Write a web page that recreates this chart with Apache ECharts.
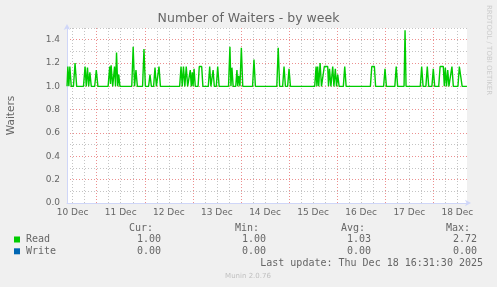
<!DOCTYPE html>
<html><head><meta charset="utf-8">
<script src="https://cdn.jsdelivr.net/npm/echarts@6/dist/echarts.min.js"></script>
<style>html,body{margin:0;padding:0;background:#f0f0f0}#c{width:497px;height:287px}</style>
</head><body><div id="c"></div><script>
// ---- data ----
const chartTitle = 'Number of Waiters - by week';
const yAxisName = 'Waiters';
// x values are hours counted from 10 Dec 00:00
const startHour = 9.18;
const endHour = 208.82;
const dayLabels = ['10 Dec', '11 Dec', '12 Dec', '13 Dec', '14 Dec', '15 Dec', '16 Dec', '17 Dec', '18 Dec'];
const dayLabelHours = [12, 36, 60, 84, 108, 132, 156, 180, 204];
const gridHours = [12, 18, 24, 30, 36, 42, 48, 54, 60, 66, 72, 78, 84, 90, 96, 102, 108, 114, 120, 126, 132, 138, 144, 150, 156, 162, 168, 174, 180, 186, 192, 198, 204];
const yLabels = ['0.0', '0.2', '0.4', '0.6', '0.8', '1.0', '1.2', '1.4'];
const readPoints = [
  [9.2, 1.0], [9.6, 1.17], [10.1, 1.0], [10.6, 1.17], [11.3, 1.0], [12.4, 1.0], [13.2, 1.2], [14.0, 1.0],
  [17.4, 1.0], [18.2, 1.17], [18.8, 1.0], [19.4, 1.16], [20.0, 1.0], [20.6, 1.12], [21.3, 1.0],
  [23.0, 1.0], [23.8, 1.14], [24.6, 1.0],
  [29.7, 1.0], [30.5, 1.17], [30.9, 1.02], [31.2, 1.18], [32.0, 1.0], [32.3, 1.0], [32.9, 1.17], [33.4, 1.0],
  [33.9, 1.29], [34.5, 1.0], [35.0, 1.1], [35.6, 1.0],
  [41.5, 1.0], [42.2, 1.34], [42.9, 1.0], [43.6, 1.14], [44.3, 1.0], [46.9, 1.0], [47.6, 1.32], [48.3, 1.0],
  [49.9, 1.0], [50.6, 1.1], [51.3, 1.0], [52.4, 1.0], [53.1, 1.16], [53.8, 1.0], [54.4, 1.0], [55.1, 1.17], [55.8, 1.0],
  [65.4, 1.0], [66.1, 1.17], [66.7, 1.0], [67.3, 1.17], [68.0, 1.0], [68.7, 1.17], [69.4, 1.0],
  [70.1, 1.0], [70.7, 1.14], [71.2, 1.0], [71.7, 1.12], [72.1, 1.0], [72.6, 1.15], [73.2, 1.0],
  [74.6, 1.0], [75.2, 1.17], [76.4, 1.17], [77.0, 1.0],
  [79.7, 1.0], [80.4, 1.17], [81.0, 1.0], [81.4, 1.0], [82.1, 1.14], [82.7, 1.0], [83.7, 1.0], [84.4, 1.17], [85.1, 1.0],
  [89.8, 1.0], [90.5, 1.34], [91.0, 1.0], [91.5, 1.16], [92.1, 1.0], [93.4, 1.0], [94.0, 1.14], [94.4, 1.0],
  [94.9, 1.09], [95.5, 1.0], [96.2, 1.33], [96.9, 1.0],
  [101.8, 1.0], [102.5, 1.23], [103.2, 1.0],
  [113.9, 1.0], [114.6, 1.33], [115.3, 1.0], [116.8, 1.0], [117.5, 1.17], [118.2, 1.0], [119.3, 1.0], [120.0, 1.15], [120.7, 1.0],
  [132.8, 1.0], [133.5, 1.17], [133.9, 1.0], [134.3, 1.17], [134.8, 1.0], [135.5, 1.2], [136.2, 1.0],
  [136.9, 1.0], [137.6, 1.17], [139.3, 1.17], [139.7, 1.0], [140.2, 1.15], [140.9, 1.0], [141.8, 1.17], [142.4, 1.0],
  [143.1, 1.15], [143.7, 1.0], [144.3, 1.1], [145.0, 1.0], [147.1, 1.0], [147.8, 1.17], [148.5, 1.0],
  [160.6, 1.0], [161.3, 1.17], [162.6, 1.17], [163.2, 1.0],
  [167.2, 1.0], [167.9, 1.15], [168.6, 1.0], [172.8, 1.0], [173.5, 1.17], [174.2, 1.0],
  [177.4, 1.0], [177.9, 1.48], [178.4, 1.0],
  [185.5, 1.0], [186.2, 1.17], [186.9, 1.0], [188.3, 1.0], [189.0, 1.17], [189.7, 1.0], [191.3, 1.0], [192.0, 1.15], [192.7, 1.0],
  [194.7, 1.0], [195.4, 1.17], [197.0, 1.17], [197.5, 1.0], [198.0, 1.16], [198.6, 1.0], [199.2, 1.14], [199.8, 1.0],
  [200.7, 1.0], [201.3, 1.17], [202.0, 1.0], [204.3, 1.0], [205.0, 1.17], [205.8, 1.17], [206.4, 1.0], [208.8, 1.0]
];
const writePoints = [[9.2, 0], [208.8, 0]];
const seriesNames = ['Read', 'Write'];
const seriesColors = ['#00cc00', '#0066b3'];
const statHeaders = ['Cur:', 'Min:', 'Avg:', 'Max:'];
const readStats = ['1.00', '1.00', '1.03', '2.72'];
const writeStats = ['0.00', '0.00', '0.00', '0.00'];
const lastUpdate = 'Last update: Thu Dec 18 16:31:30 2025';
const versionText = 'Munin 2.0.76';
const sideText = 'RRDTOOL / TOBI OETIKER';

// ---- styles ----
const FONT = 'DejaVu Sans';
const MONO = 'DejaVu Sans Mono';
const TXT = '#666666';
const AXIS = '#CFD6F8';
const MINOR = '#c4c4c4';
const MAJOR = '#ec9090';

const chart = echarts.init(document.getElementById('c'), null, {renderer: 'canvas'});

const statRight = [153, 259, 365, 470];
const valRight = [161, 266, 371, 477];
const graphics = [];
statHeaders.forEach((h, i) => graphics.push({type: 'text', x: statRight[i], y: 228,
  style: {text: h, font: '10px ' + MONO, fill: TXT, textAlign: 'right', textVerticalAlign: 'middle'}}));
[readStats, writeStats].forEach((row, r) => {
  const y = 239.5 + r * 11.8;
  graphics.push({type: 'rect', shape: {x: 14, y: y - 3, width: 6, height: 6}, style: {fill: seriesColors[r]}});
  graphics.push({type: 'text', x: 26, y: y, style: {text: seriesNames[r], font: '10px ' + MONO, fill: TXT, textVerticalAlign: 'middle'}});
  row.forEach((v, i) => graphics.push({type: 'text', x: valRight[i], y: y,
    style: {text: v, font: '10px ' + MONO, fill: TXT, textAlign: 'right', textVerticalAlign: 'middle'}}));
});
graphics.push({type: 'text', x: 483, y: 263.5, style: {text: lastUpdate, font: '10px ' + MONO, fill: TXT, textAlign: 'right', textVerticalAlign: 'middle'}});
graphics.push({type: 'text', x: 248, y: 276, style: {text: versionText, font: '7px ' + FONT, fill: '#c0c0c0', textAlign: 'center', textVerticalAlign: 'middle'}});
graphics.push({type: 'text', x: 489, y: 5, rotation: -Math.PI / 2,
  style: {text: sideText, font: '7px ' + FONT, fill: '#cccccc', textAlign: 'left', textVerticalAlign: 'middle'}});

chart.setOption({
  backgroundColor: '#f0f0f0',
  animation: false,
  title: {text: chartTitle, left: 'center', top: 12, padding: 0,
    textStyle: {fontFamily: FONT, fontSize: 12.5, fontWeight: 'normal', color: TXT}},
  grid: {left: 67, right: 30, top: 28, bottom: 84, show: true, backgroundColor: '#ffffff', borderWidth: 0,
    containLabel: false, outerBoundsMode: 'none'},
  xAxis: [{
    type: 'value', min: startHour, max: endHour, position: 'bottom',
    axisLine: {show: false},
    axisTick: {show: false, customValues: gridHours},
    splitLine: {show: true, lineStyle: {color: [MINOR, MINOR, MAJOR, MINOR], type: [1, 2], width: 1}},
    axisLabel: {customValues: dayLabelHours, margin: 5,
      formatter: v => { const i = dayLabelHours.indexOf(Math.round(v)); return i >= 0 ? dayLabels[i] : ''; },
      fontFamily: FONT, fontSize: 9, color: TXT}
  }, {
    type: 'value', min: startHour, max: endHour, position: 'bottom', z: 5,
    axisLine: {show: true, onZero: false, lineStyle: {color: AXIS, width: 1}, symbol: ['none', 'arrow'], symbolSize: [5, 6], symbolOffset: [0, 4]},
    axisTick: {show: false}, splitLine: {show: false}, axisLabel: {show: false}
  }],
  yAxis: {
    type: 'value', min: 0, max: 1.5, interval: 0.1,
    name: yAxisName, nameLocation: 'middle', nameGap: 50,
    nameTextStyle: {fontFamily: FONT, fontSize: 10.5, color: TXT},
    axisLine: {show: true, lineStyle: {color: AXIS, width: 1}, symbol: ['none', 'arrow'], symbolSize: [5, 6], symbolOffset: [0, 4]},
    axisTick: {show: false},
    splitLine: {show: true, lineStyle: {color: [MAJOR, MINOR], type: [1, 2], width: 1}},
    axisLabel: {margin: 7, fontFamily: FONT, fontSize: 9, color: TXT,
      formatter: v => { const k = Math.round(v * 10); return (k % 2 === 0 && k / 2 < yLabels.length) ? yLabels[k / 2] : ''; }}
  },
  graphic: graphics,
  series: [
    {name: seriesNames[1], type: 'line', data: writePoints, showSymbol: false, z: -1,
      lineStyle: {color: seriesColors[1], width: 1}},
    {name: seriesNames[0], type: 'line', data: readPoints, showSymbol: false, z: 2,
      lineStyle: {color: seriesColors[0], width: 1.4}}
  ]
});
</script></body></html>
